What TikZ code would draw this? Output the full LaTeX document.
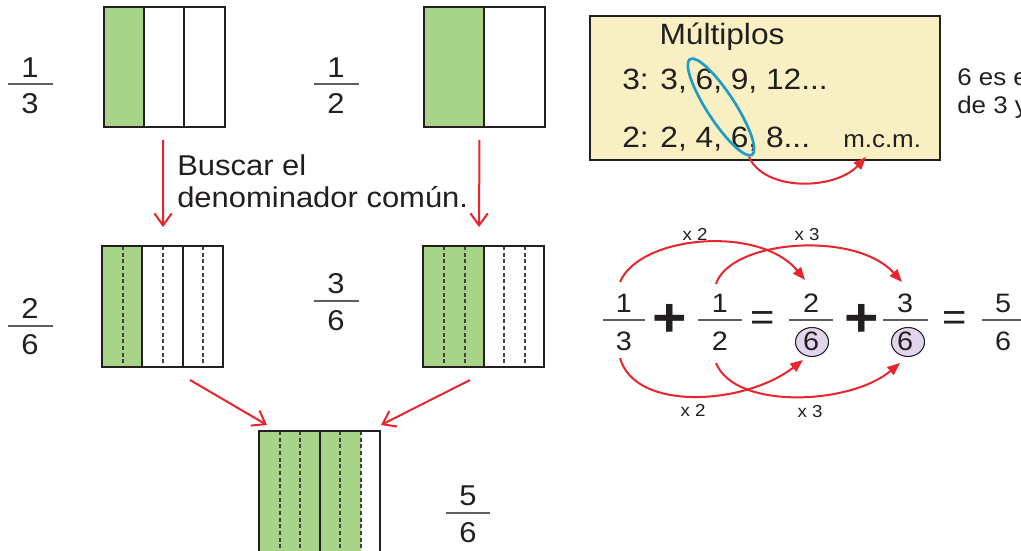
\documentclass[tikz,border=0pt]{standalone}
\usepackage{fontspec}
\setmainfont{Liberation Sans}[FakeStretch=1.08]
\usetikzlibrary{arrows.meta,fit}
\definecolor{grn}{HTML}{A8D48A}
\definecolor{ylw}{HTML}{F8F0C2}
\definecolor{rd}{HTML}{E8242C}
\definecolor{blu}{HTML}{1E9BC6}
\definecolor{lil}{HTML}{E2D4EA}
\definecolor{ink}{HTML}{231F20}
\definecolor{fl}{HTML}{5E5E5E}
\newcommand\myfrac[9]{%
  \node[#9,anchor=base] (#1n) at (#2,#4) {#7};
  \node[#9,anchor=base] (#1d) at (#2,#6) {#8};
  \draw[fline] (#2-#3,#5) -- (#2+#3,#5);
}
\begin{document}
\begin{tikzpicture}[x=0.75pt,y=-0.75pt,
  txt/.style={inner sep=0pt, text=ink},
  bigfr/.style={txt, font=\fontsize{21.5}{25}\selectfont},
  eqfr/.style={txt, font=\fontsize{20}{23}\selectfont},
  lbl/.style={txt, font=\fontsize{21.5}{26}\selectfont},
  mtxt/.style={txt, font=\fontsize{22}{26}\selectfont},
  smtxt/.style={txt, font=\fontsize{18}{22}\selectfont},
  xlbl/.style={txt, font=\fontsize{13}{15}\selectfont},
  opplus/.style={txt, font=\fontsize{41}{41}\selectfont\bfseries},
  opeq/.style={txt, font=\fontsize{29}{30}\selectfont},
  fline/.style={draw=fl, line width=1.1pt},
  boxln/.style={draw=ink, line width=1.4pt},
  divln/.style={draw=ink, line width=1.4pt},
  dashln/.style={draw=ink!85, line width=0.8pt, dash pattern=on 3pt off 2pt},
  redarr/.style={draw=rd, line width=1.5pt, -{Straight Barb[length=9pt,width=13pt]}},
  redcurve/.style={draw=rd, line width=1.5pt, -{Triangle[length=9.5pt,width=7.5pt]}},
  circ/.style={draw=ink, fill=lil, line width=0.8pt}
]
\useasboundingbox (0,0) rectangle (1021,550);
\clip (0,0) rectangle (1021,550);
\fill[white] (0,0) rectangle (1021,550);

% ---------- top row ----------
\fill[grn] (104,7) rectangle (144,127);
\draw[divln] (144,7) -- (144,127) (184,7) -- (184,127);
\node[fit={(104,7)(225,127)}, inner sep=0pt, boxln] (boxA) {};
\fill[grn] (424,7) rectangle (484,127);
\draw[divln] (484,7) -- (484,127);
\node[fit={(424,7)(545,127)}, inner sep=0pt, boxln] (boxB) {};

\myfrac{fa}{30}{22.5}{77}{84}{113}{1}{3}{bigfr}
\myfrac{fb}{336}{22.5}{77}{84}{113}{1}{2}{bigfr}

% ---------- middle row ----------
\fill[grn] (102,246) rectangle (142,367);
\draw[dashln] (123,246) -- (123,367) (163,246) -- (163,367) (203,246) -- (203,367);
\draw[divln] (142,246) -- (142,367) (183,246) -- (183,367);
\node[fit={(102,246)(223,367)}, inner sep=0pt, boxln] (boxC) {};

\fill[grn] (423,246) rectangle (484,367);
\draw[dashln] (444,246) -- (444,367) (465,246) -- (465,367) (504,246) -- (504,367) (525,246) -- (525,367);
\draw[divln] (484,246) -- (484,367);
\node[fit={(423,246)(544,367)}, inner sep=0pt, boxln] (boxD) {};

\myfrac{fc}{30}{22.5}{318}{326}{354}{2}{6}{bigfr}
\myfrac{fd}{336}{22.5}{293}{301}{330}{3}{6}{bigfr}

% ---------- bottom ----------
\fill[grn] (259,431) rectangle (361,560);
\draw[dashln] (280,431) -- (280,560) (300,431) -- (300,560) (340,431) -- (340,560) (361,431) -- (361,560);
\draw[divln] (320,431) -- (320,560);
\node[fit={(259,431)(380,560)}, inner sep=0pt, boxln] (boxE) {};

\myfrac{fe}{468}{22}{505}{513}{542}{5}{6}{bigfr}

% ---------- arrows between boxes ----------
\draw[redarr, shorten <=9pt, shorten >=13.5pt] ([xshift=-1pt]boxA.south) -- ([xshift=0.4pt]boxC.north);
\draw[redarr, shorten <=9pt, shorten >=13.5pt] ([xshift=-3.75pt]boxB.south) -- ([xshift=-3.4pt]boxD.north);
\node[lbl, anchor=base west] (busc1) at (177,175) {Buscar el};
\node[lbl, anchor=base west] (busc2) at (177,207) {denominador común.};

\coordinate (cS) at (190,380);
\coordinate (cE) at (267,425);
\coordinate (dS) at (470,380);
\coordinate (dE) at (381,425);
\draw[redarr] (cS) -- (cE);
\draw[redarr] (dS) -- (dE);

% ---------- multiples box ----------
\node[fit={(590,16)(940,160)}, inner sep=0pt, draw=ink, fill=ylw, line width=1.5pt] (mult) {};
\node[mtxt, anchor=base] (multt) at (722,44) {Múltiplos};
\node[mtxt, anchor=base west] (row3) at (622,89) {3: 3, 6, 9, 12...};
\node[mtxt, anchor=base west] (row2) at (622,147) {2: 2, 4, 6, 8...};
\node[smtxt, anchor=base west] (mcm) at (843,147) {m.c.m.};
\draw[blu, line width=2pt, rotate around={-57:(721,107)}] (721,107) ellipse [x radius=57, y radius=14];
\coordinate (elb) at (749,157);
\coordinate (mcmt) at (866,157);
\draw[redcurve] (elb) .. controls (765,192) and (835,190) .. (mcmt);

\node[smtxt, anchor=base west] (nota1) at (957,85) {6 es el};
\node[smtxt, anchor=base west] (nota2) at (957,113) {de 3 y};

% ---------- equation ----------
\draw[circ] (812,342) ellipse [x radius=16.5, y radius=14.5];
\draw[circ] (908,342) ellipse [x radius=16.5, y radius=14.5];
\myfrac{ga}{624}{21}{312}{320}{350}{1}{3}{eqfr}
\myfrac{gb}{720}{22}{312}{320}{350}{1}{2}{eqfr}
\myfrac{gc}{811}{22}{312}{320}{350}{2}{6}{eqfr}
\myfrac{gd}{905}{22.5}{312}{320}{350}{3}{6}{eqfr}
\myfrac{ge}{1003}{21}{312}{320}{350}{5}{6}{eqfr}
\node[opplus] (p1) at (670,320) {+};
\node[opplus] (p2) at (862,320) {+};
\node[opeq] (q1) at (763,321) {=};
\node[opeq] (q2) at (955,321) {=};

\coordinate (t1s) at (620,282);
\coordinate (t1e) at (805,280);
\coordinate (t2s) at (716,284);
\coordinate (t2e) at (902,282);
\coordinate (b1s) at (620,358);
\coordinate (b1e) at (803,360);
\coordinate (b2s) at (716,363);
\coordinate (b2e) at (900,363);
\draw[redcurve] (t1s) .. controls (640,235) and (760,225) .. (t1e);
\draw[redcurve] (t2s) .. controls (730,240) and (855,230) .. (t2e);
\draw[redcurve] (b1s) .. controls (635,412) and (745,405) .. (b1e);
\draw[redcurve] (b2s) .. controls (735,410) and (850,405) .. (b2e);
\node[xlbl] (x2a) at (695,234) {x 2};
\node[xlbl] (x3a) at (807,235) {x 3};
\node[xlbl] (x2b) at (693,410) {x 2};
\node[xlbl] (x3b) at (810,412) {x 3};
\end{tikzpicture}
\end{document}
